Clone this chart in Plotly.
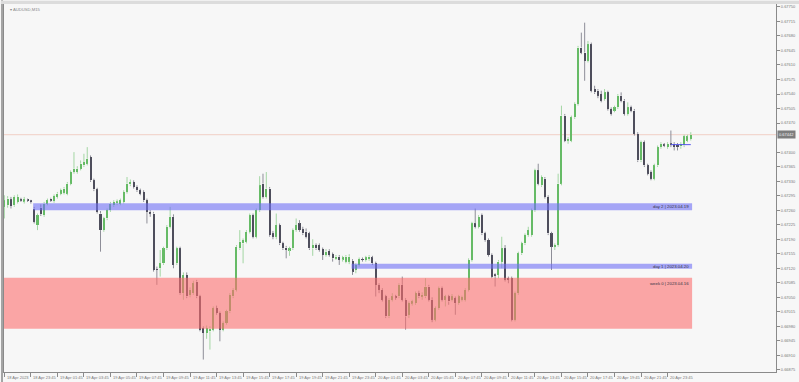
import plotly.graph_objects as go

# ---------------- data (AUDUSD, M15) ----------------
opens = [0.67268,0.67272,0.67286,0.67272,0.67280,0.67286,0.67282,0.67284,0.67282,0.67264,
0.67224,0.67266,0.67248,0.67276,0.67288,0.67282,0.67292,0.67300,0.67302,0.67300,
0.67324,0.67352,0.67352,0.67360,0.67368,0.67372,0.67388,0.67332,0.67310,0.67252,
0.67212,0.67240,0.67260,0.67272,0.67278,0.67276,0.67280,0.67304,0.67322,0.67328,
0.67316,0.67308,0.67304,0.67284,0.67256,0.67252,0.67118,0.67120,0.67132,0.67168,
0.67220,0.67244,0.67132,0.67168,0.67060,0.67104,0.67056,0.67060,0.67088,0.67052,
0.66976,0.66964,0.66968,0.66972,0.67024,0.67012,0.66972,0.66988,0.67016,0.67052,
0.67068,0.67168,0.67180,0.67184,0.67208,0.67248,0.67196,0.67260,0.67324,0.67292,
0.67312,0.67204,0.67196,0.67224,0.67180,0.67170,0.67164,0.67168,0.67212,0.67228,
0.67214,0.67208,0.67204,0.67168,0.67176,0.67176,0.67166,0.67152,0.67162,0.67154,
0.67144,0.67148,0.67142,0.67136,0.67136,0.67138,0.67116,0.67128,0.67142,0.67140,
0.67142,0.67146,0.67132,0.67080,0.67068,0.67052,0.67004,0.67044,0.67052,0.67052,
0.67080,0.67044,0.67008,0.67036,0.67036,0.67060,0.67052,0.67052,0.67076,0.67044,
0.66996,0.67024,0.67072,0.67044,0.67052,0.67044,0.67048,0.67036,0.67044,0.67044,
0.67068,0.67140,0.67228,0.67220,0.67248,0.67204,0.67188,0.67152,0.67104,0.67104,
0.67136,0.67168,0.67096,0.67096,0.66996,0.67060,0.67156,0.67180,0.67200,0.67200,
0.67260,0.67356,0.67320,0.67336,0.67292,0.67204,0.67172,0.67176,0.67324,0.67488,
0.67428,0.67428,0.67484,0.67516,0.67652,0.67640,0.67620,0.67660,0.67552,0.67548,
0.67540,0.67528,0.67544,0.67504,0.67500,0.67508,0.67536,0.67524,0.67492,0.67508,
0.67500,0.67444,0.67380,0.67424,0.67368,0.67352,0.67336,0.67368,0.67412,0.67418,
0.67412,0.67420,0.67420,0.67418,0.67414,0.67416,0.67428,0.67432]

highs = [0.67296,0.67294,0.67292,0.67296,0.67298,0.67290,0.67292,0.67288,0.67285,0.67268,
0.67252,0.67274,0.67280,0.67288,0.67290,0.67298,0.67304,0.67312,0.67316,0.67328,
0.67356,0.67400,0.67366,0.67380,0.67396,0.67412,0.67392,0.67336,0.67314,0.67258,
0.67244,0.67264,0.67280,0.67284,0.67286,0.67288,0.67308,0.67340,0.67334,0.67332,
0.67320,0.67312,0.67308,0.67288,0.67260,0.67256,0.67124,0.67164,0.67172,0.67224,
0.67268,0.67250,0.67172,0.67172,0.67110,0.67110,0.67074,0.67090,0.67092,0.67056,
0.66980,0.66982,0.66980,0.67028,0.67030,0.67016,0.66992,0.67020,0.67060,0.67072,
0.67176,0.67212,0.67192,0.67212,0.67252,0.67252,0.67264,0.67342,0.67348,0.67352,
0.67316,0.67210,0.67252,0.67228,0.67184,0.67174,0.67172,0.67216,0.67240,0.67236,
0.67220,0.67216,0.67208,0.67190,0.67180,0.67180,0.67170,0.67166,0.67166,0.67158,
0.67152,0.67152,0.67150,0.67152,0.67154,0.67142,0.67132,0.67146,0.67146,0.67150,
0.67152,0.67150,0.67136,0.67084,0.67072,0.67056,0.67048,0.67060,0.67056,0.67084,
0.67100,0.67048,0.67040,0.67044,0.67064,0.67066,0.67062,0.67096,0.67080,0.67050,
0.67028,0.67076,0.67076,0.67056,0.67056,0.67058,0.67052,0.67056,0.67054,0.67072,
0.67144,0.67232,0.67264,0.67248,0.67252,0.67208,0.67192,0.67156,0.67108,0.67140,
0.67196,0.67176,0.67100,0.67100,0.67064,0.67160,0.67184,0.67204,0.67220,0.67264,
0.67360,0.67372,0.67344,0.67340,0.67296,0.67208,0.67180,0.67348,0.67512,0.67492,
0.67436,0.67488,0.67520,0.67656,0.67688,0.67712,0.67668,0.67664,0.67560,0.67552,
0.67548,0.67552,0.67548,0.67508,0.67512,0.67540,0.67544,0.67528,0.67520,0.67512,
0.67504,0.67448,0.67428,0.67428,0.67372,0.67356,0.67372,0.67416,0.67424,0.67422,
0.67424,0.67452,0.67424,0.67422,0.67424,0.67442,0.67442,0.67448]

lows = [0.67240,0.67266,0.67264,0.67268,0.67276,0.67280,0.67276,0.67280,0.67276,0.67228,
0.67212,0.67246,0.67244,0.67272,0.67280,0.67278,0.67288,0.67296,0.67298,0.67296,
0.67320,0.67348,0.67348,0.67356,0.67364,0.67368,0.67328,0.67306,0.67252,0.67160,
0.67208,0.67236,0.67256,0.67268,0.67272,0.67272,0.67276,0.67300,0.67318,0.67312,
0.67304,0.67296,0.67280,0.67228,0.67244,0.67112,0.67080,0.67100,0.67128,0.67164,
0.67216,0.67120,0.67128,0.67056,0.67044,0.67048,0.67050,0.67056,0.67048,0.66968,
0.66900,0.66950,0.66924,0.66968,0.67008,0.66944,0.66968,0.66984,0.67012,0.67048,
0.67064,0.67164,0.67132,0.67180,0.67204,0.67192,0.67192,0.67256,0.67288,0.67288,
0.67196,0.67190,0.67190,0.67176,0.67164,0.67144,0.67150,0.67164,0.67208,0.67208,
0.67200,0.67192,0.67164,0.67150,0.67164,0.67160,0.67140,0.67148,0.67148,0.67136,
0.67140,0.67128,0.67136,0.67132,0.67130,0.67104,0.67108,0.67124,0.67136,0.67136,
0.67138,0.67128,0.67052,0.67060,0.67040,0.67000,0.67000,0.67040,0.67044,0.67048,
0.67040,0.66972,0.67000,0.67030,0.67032,0.67048,0.67044,0.67048,0.67040,0.66990,
0.66992,0.67020,0.67040,0.67028,0.67032,0.67040,0.67008,0.67032,0.67040,0.67040,
0.67064,0.67136,0.67216,0.67216,0.67200,0.67184,0.67148,0.67096,0.67076,0.67096,
0.67120,0.67088,0.67084,0.66992,0.66992,0.67056,0.67152,0.67176,0.67196,0.67196,
0.67256,0.67320,0.67316,0.67288,0.67200,0.67116,0.67164,0.67172,0.67320,0.67424,
0.67420,0.67424,0.67480,0.67512,0.67636,0.67572,0.67616,0.67544,0.67540,0.67530,
0.67520,0.67524,0.67500,0.67488,0.67496,0.67504,0.67520,0.67488,0.67488,0.67496,
0.67440,0.67376,0.67376,0.67364,0.67344,0.67332,0.67332,0.67364,0.67408,0.67412,
0.67408,0.67412,0.67404,0.67404,0.67408,0.67412,0.67424,0.67428]

closes = [0.67284,0.67288,0.67270,0.67292,0.67292,0.67284,0.67286,0.67283,0.67280,0.67232,
0.67248,0.67250,0.67276,0.67284,0.67284,0.67294,0.67300,0.67308,0.67312,0.67324,
0.67352,0.67360,0.67360,0.67372,0.67376,0.67384,0.67332,0.67310,0.67256,0.67212,
0.67240,0.67260,0.67276,0.67280,0.67280,0.67284,0.67304,0.67324,0.67328,0.67316,
0.67308,0.67300,0.67284,0.67256,0.67252,0.67116,0.67116,0.67132,0.67168,0.67220,
0.67244,0.67128,0.67168,0.67060,0.67104,0.67052,0.67068,0.67084,0.67052,0.66972,
0.66964,0.66976,0.66974,0.67024,0.67012,0.66972,0.66988,0.67016,0.67056,0.67068,
0.67172,0.67184,0.67188,0.67208,0.67248,0.67196,0.67260,0.67320,0.67292,0.67312,
0.67200,0.67196,0.67224,0.67180,0.67168,0.67164,0.67168,0.67212,0.67224,0.67212,
0.67204,0.67196,0.67168,0.67176,0.67168,0.67164,0.67152,0.67160,0.67152,0.67144,
0.67148,0.67140,0.67146,0.67148,0.67148,0.67112,0.67128,0.67142,0.67140,0.67146,
0.67148,0.67132,0.67080,0.67068,0.67044,0.67004,0.67044,0.67052,0.67050,0.67080,
0.67044,0.67004,0.67036,0.67040,0.67060,0.67052,0.67056,0.67076,0.67044,0.66996,
0.67024,0.67072,0.67044,0.67052,0.67040,0.67052,0.67036,0.67052,0.67050,0.67068,
0.67140,0.67228,0.67220,0.67244,0.67204,0.67188,0.67152,0.67100,0.67102,0.67136,
0.67168,0.67092,0.67092,0.66996,0.67060,0.67156,0.67180,0.67200,0.67212,0.67260,
0.67356,0.67324,0.67340,0.67292,0.67204,0.67172,0.67176,0.67324,0.67488,0.67428,
0.67432,0.67484,0.67516,0.67652,0.67640,0.67620,0.67660,0.67548,0.67544,0.67536,
0.67524,0.67544,0.67504,0.67492,0.67508,0.67536,0.67524,0.67492,0.67508,0.67500,
0.67444,0.67380,0.67424,0.67368,0.67348,0.67336,0.67368,0.67412,0.67420,0.67416,
0.67420,0.67418,0.67412,0.67412,0.67420,0.67438,0.67438,0.67442]

# time axis: one tick every 8 bars (2 hours)
time_tick_bars = [0, 8, 16, 24, 32, 40, 48, 56, 64, 72, 80, 88, 96, 104,
                  112, 120, 128, 136, 144, 152, 160, 168, 176, 184, 192, 200]
time_tick_labels = ["18 Apr 2023", "18 Apr 23:45", "19 Apr 01:45", "19 Apr 03:45",
                    "19 Apr 05:45", "19 Apr 07:45", "19 Apr 09:45", "19 Apr 11:45",
                    "19 Apr 13:45", "19 Apr 15:45", "19 Apr 17:45", "19 Apr 19:45",
                    "19 Apr 21:45", "19 Apr 23:45", "20 Apr 01:45", "20 Apr 03:45",
                    "20 Apr 05:45", "20 Apr 07:45", "20 Apr 09:45", "20 Apr 11:45",
                    "20 Apr 13:45", "20 Apr 15:45", "20 Apr 17:45", "20 Apr 19:45",
                    "20 Apr 21:45", "20 Apr 23:45"]

price_ticks = [0.66875, 0.66910, 0.66945, 0.66980, 0.67015, 0.67050, 0.67085, 0.67120,
               0.67155, 0.67190, 0.67225, 0.67260, 0.67295, 0.67330, 0.67365, 0.67400,
               0.67470, 0.67505, 0.67540, 0.67575, 0.67610, 0.67645, 0.67680,
               0.67715, 0.67750]
price_tick_labels = ["%.5f" % v for v in price_ticks]

# support / resistance zones
zone_labels = ["week 0 | 2023.04.16", "day 2 | 2023.04.19", "day 1 | 2023.04.20"]
zone_low = [0.66974, 0.67260, 0.67119]
zone_high = [0.67097, 0.67277, 0.67131]
zone_start_bar = [-2, 9, 105]
zone_colors = ["rgba(252,110,110,0.6)", "rgba(110,110,245,0.6)", "rgba(110,110,245,0.6)"]

current_price = 0.67442
day_open_price = 0.67418
day_open_start_bar = 201

symbol_title = "AUDUSD,M15"

# ---------------- styling ----------------
BG = "#f7f7f7"
BULL_BODY = "#66bb66"
BULL_WICK = "#a3d6a3"
BEAR_BODY = "#4e4e5c"
BEAR_WICK = "#8e8e98"
AXIS_C = "#8a8a8a"
TXT_C = "#777777"
FONT = "Liberation Sans"

n = len(opens)
idx = list(range(n))
bull = [c >= o for o, c in zip(opens, closes)]
min_body = 0.000022

fig = go.Figure()

# wicks (split above/below body so lighter wick never crosses the body)
for is_bull, col in ((True, BULL_WICK), (False, BEAR_WICK)):
    wx, wy = [], []
    for i in idx:
        if bull[i] != is_bull:
            continue
        top = max(opens[i], closes[i])
        bot = min(opens[i], closes[i])
        wx += [i, i, None, i, i, None]
        wy += [highs[i], top, None, bot, lows[i], None]
    fig.add_trace(go.Scatter(x=wx, y=wy, mode="lines", line=dict(color=col, width=1),
                             hoverinfo="skip", showlegend=False))

# bodies
bases = [min(o, c) for o, c in zip(opens, closes)]
heights = [max(abs(c - o), min_body) for o, c in zip(opens, closes)]
fig.add_trace(go.Bar(x=idx, y=heights, base=bases, width=0.62,
                     marker=dict(color=[BULL_BODY if b else BEAR_BODY for b in bull],
                                 line=dict(width=0)),
                     showlegend=False,
                     customdata=list(zip(opens, highs, lows, closes)),
                     hovertemplate="O %{customdata[0]:.5f}<br>H %{customdata[1]:.5f}"
                                   "<br>L %{customdata[2]:.5f}<br>C %{customdata[3]:.5f}<extra></extra>"))

# day-open reference line
fig.add_trace(go.Scatter(x=[day_open_start_bar, n - 1], y=[day_open_price, day_open_price],
                         mode="lines", line=dict(color="#5555ee", width=1),
                         hoverinfo="skip", showlegend=False))

shapes = []
annotations = []

# window frame strips (left / top edges of the terminal window)
shapes.append(dict(type="rect", xref="paper", yref="paper", x0=-0.0039, x1=-0.0013,
                   y0=-0.03, y1=1.01, fillcolor="#a4a4a4", line=dict(width=0), layer="above"))
shapes.append(dict(type="rect", xref="paper", yref="paper", x0=-0.004, x1=1.03,
                   y0=1.0, y1=1.0085, fillcolor="#dcdcdc", line=dict(width=0), layer="above"))

# current price line
shapes.append(dict(type="line", xref="paper", x0=0, x1=1, yref="y",
                   y0=current_price, y1=current_price,
                   line=dict(color="#f0cfc6", width=1), layer="below"))

# zones (drawn above candles, semi transparent)
for lab, lo, hi, st, colr in zip(zone_labels, zone_low, zone_high, zone_start_bar, zone_colors):
    shapes.append(dict(type="rect", xref="x", yref="y", x0=st - 0.3, x1=n - 1 + 0.4,
                       y0=lo, y1=hi, fillcolor=colr, line=dict(width=0), layer="above"))
    is_week = lab.startswith("week")
    annotations.append(dict(x=n - 1 + 0.2, y=hi if is_week else (lo + hi) / 2,
                            xref="x", yref="y", text=lab, showarrow=False,
                            xanchor="right", yanchor="top" if is_week else "middle",
                            yshift=-1 if is_week else 0,
                            font=dict(family=FONT, size=4.3, color="#333344")))

# time labels (to the right of each tick, MetaTrader style)
for b, lab in zip(time_tick_bars, time_tick_labels):
    annotations.append(dict(x=b, y=0, xref="x", yref="paper", text=lab, showarrow=False,
                            xanchor="left", yanchor="top", xshift=0.5, yshift=-1,
                            font=dict(family=FONT, size=4, color=TXT_C)))

# current price tag on the price scale
annotations.append(dict(x=1, y=current_price, xref="paper", yref="y",
                        text="%.5f" % current_price, showarrow=False,
                        xanchor="left", yanchor="middle", xshift=1,
                        bgcolor="#7d7d7d", borderpad=1,
                        font=dict(family=FONT, size=4, color="#f2f2f2")))

# symbol title
annotations.append(dict(x=0, y=1, xref="paper", yref="paper",
                        text="\u25be " + symbol_title, showarrow=False,
                        xanchor="left", yanchor="top", xshift=4, yshift=-1,
                        font=dict(family=FONT, size=4.2, color="#888888")))

fig.update_layout(
    width=799, height=382,
    margin=dict(l=3, r=20, t=3, b=10),
    paper_bgcolor=BG, plot_bgcolor=BG,
    bargap=0, showlegend=False,
    shapes=shapes, annotations=annotations,
    xaxis=dict(range=[-0.1, 232.7], showgrid=False, zeroline=False,
               tickmode="array", tickvals=time_tick_bars, showticklabels=False,
               ticks="outside", ticklen=4, tickcolor=AXIS_C, tickwidth=1,
               showline=True, linecolor=AXIS_C, linewidth=1, mirror=True,
               fixedrange=True),
    yaxis=dict(range=[0.66870, 0.67757], side="right", showgrid=False, zeroline=False,
               tickmode="array", tickvals=price_ticks, ticktext=price_tick_labels,
               ticks="outside", ticklen=3, tickcolor=AXIS_C, tickwidth=1,
               tickfont=dict(family=FONT, size=4, color=TXT_C),
               showline=True, linecolor=AXIS_C, linewidth=1, mirror=True,
               fixedrange=True),
)

fig.write_html("out.html")
